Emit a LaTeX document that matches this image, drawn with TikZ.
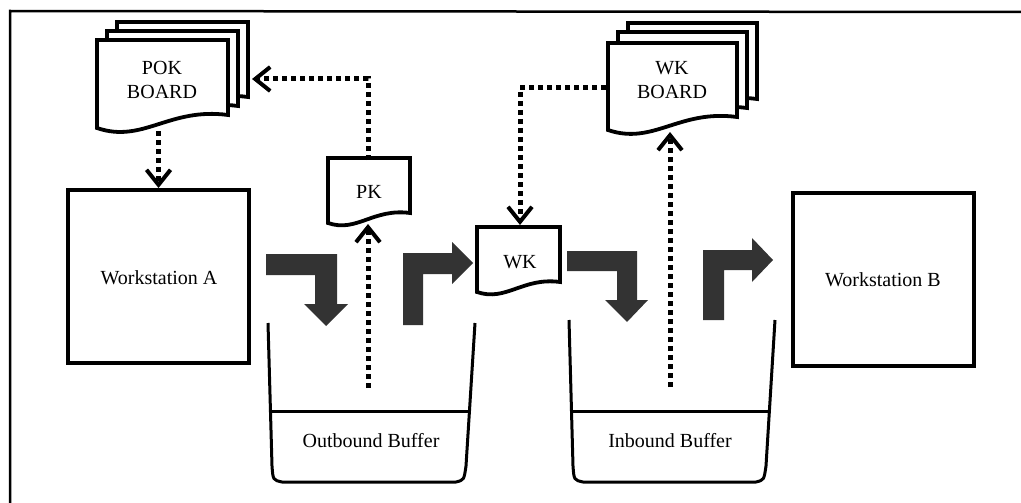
\documentclass[tikz,border=0pt]{standalone}
\usepackage{fontspec}
\setmainfont{Liberation Serif}
\usetikzlibrary{arrows.meta}
\definecolor{blockgray}{HTML}{333333}
\newcommand\docshape[6]{%
  \draw[#1] (#2,#3) -- (#4,#3) -- (#4,#5)
    .. controls ({#2+0.55*(#4-#2)},{#5-0.06*(#4-#2)}) and ({#2+0.35*(#4-#2)},{#6+0.12*(#4-#2)}) .. (#2,#6) -- cycle;}
\newcommand\bucketshape[5]{% left-top x, right-top x, top y, bottom y, divider y
  \draw[bucket] (#1,#3) -- ({#1+4},{#4-16}) .. controls ({#1+5},{#4-2}) .. ({#1+14},#4)
    -- ({#2-19},#4) .. controls ({#2-11},{#4-2}) .. ({#2-9},{#4-16}) -- (#2,#3);
  \draw[bucket] ({#1+4*(#5-#3)/(#4-16-#3)},#5) -- ({#2-9*(#5-#3)/(#4-16-#3)},#5);}
\begin{document}
\begin{tikzpicture}[x=1pt,y=-1pt,
  frame/.style={line width=2.5pt},
  box/.style={draw, line width=4pt, inner sep=0pt},
  doc/.style={draw, line width=3.8pt, fill=white, line join=miter},
  lbl/.style={font=\fontsize{20}{24}\selectfont, align=center, inner sep=0pt},
  kanban/.style={line width=5pt, dash pattern=on 5pt off 4pt,
    -{Straight Barb[length=15pt,width=24pt,line width=4pt]}},
  bucket/.style={line width=3pt, line join=round},
  block/.style={fill=blockgray, draw=none}]
\useasboundingbox (0,0) rectangle (1021,503);

% frame
\draw[frame] (1021,12) -- (10,11) -- (10,503);

% workstations
\node[box, minimum width=181pt, minimum height=173pt] (wsa) at (158.5,276.5) {};
\node[lbl] (wsatext) at (159,278) {Workstation A};
\node[box, minimum width=181pt, minimum height=173pt] (wsb) at (883.5,279.5) {};
\node[lbl] (wsbtext) at (883,280) {Workstation B};

% POK board
\docshape{doc}{117}{22}{248}{97}{110}
\docshape{doc}{107}{31}{238}{106}{119}
\docshape{doc}{97}{40}{228}{115}{128}
\node[lbl] (pok) at (162,80) {POK\\BOARD};

% WK board
\docshape{doc}{628}{23}{757}{99}{112}
\docshape{doc}{618}{32}{747}{108}{121}
\docshape{doc}{608}{43}{737}{117}{130}
\node[lbl] (wkb) at (672,80) {WK\\BOARD};

% PK card
\docshape{doc}{328}{158}{410}{213}{223}
\node[lbl] (pk) at (369,192) {PK};

% WK card
\docshape{doc}{477}{227}{560}{282}{292}
\node[lbl] (wk) at (520,262) {WK};

% buffers
\bucketshape{268}{475}{323}{482}{411}
\node[lbl] (obuf) at (371,441) {Outbound Buffer};
\bucketshape{569}{775}{320}{482}{411}
\node[lbl] (ibuf) at (670,441) {Inbound Buffer};

% block arrows
\fill[block] (266,254) -- (337,254) -- (337,304) -- (348,304) -- (326,326) -- (304,304) -- (315,304) -- (315,275) -- (266,275) -- cycle;
\fill[block] (403,325) -- (403,253) -- (452,253) -- (452,242) -- (473,263) -- (452,284) -- (452,274) -- (423,274) -- (423,325) -- cycle;
\fill[block] (567,251) -- (637,251) -- (637,300) -- (648,300) -- (627,322) -- (605,300) -- (617,300) -- (617,271) -- (567,271) -- cycle;
\fill[block] (703,320) -- (703,250) -- (752,250) -- (752,238) -- (773,260) -- (752,282) -- (752,270) -- (724,270) -- (724,320) -- cycle;

% kanban coordinates
\coordinate (pokbot) at (158.5,131);
\coordinate (pokright) at (252,79);
\coordinate (pktop) at (368,160);
\coordinate (pkbot) at (368,224);
\coordinate (obdot) at (368,388);
\coordinate (wkbleft) at (606,88);
\coordinate (wktop) at (520,225);
\coordinate (wkbbot) at (670,132);
\coordinate (ibdot) at (670,387);

% kanban flows
\draw[kanban] (pokbot) -- (wsa.north);
\draw[kanban] (obdot) -- (pkbot);
\draw[kanban] (pktop) |- (pokright);
\draw[kanban] (wkbleft) -| (wktop);
\draw[kanban] (ibdot) -- (wkbbot);
\end{tikzpicture}
\end{document}
